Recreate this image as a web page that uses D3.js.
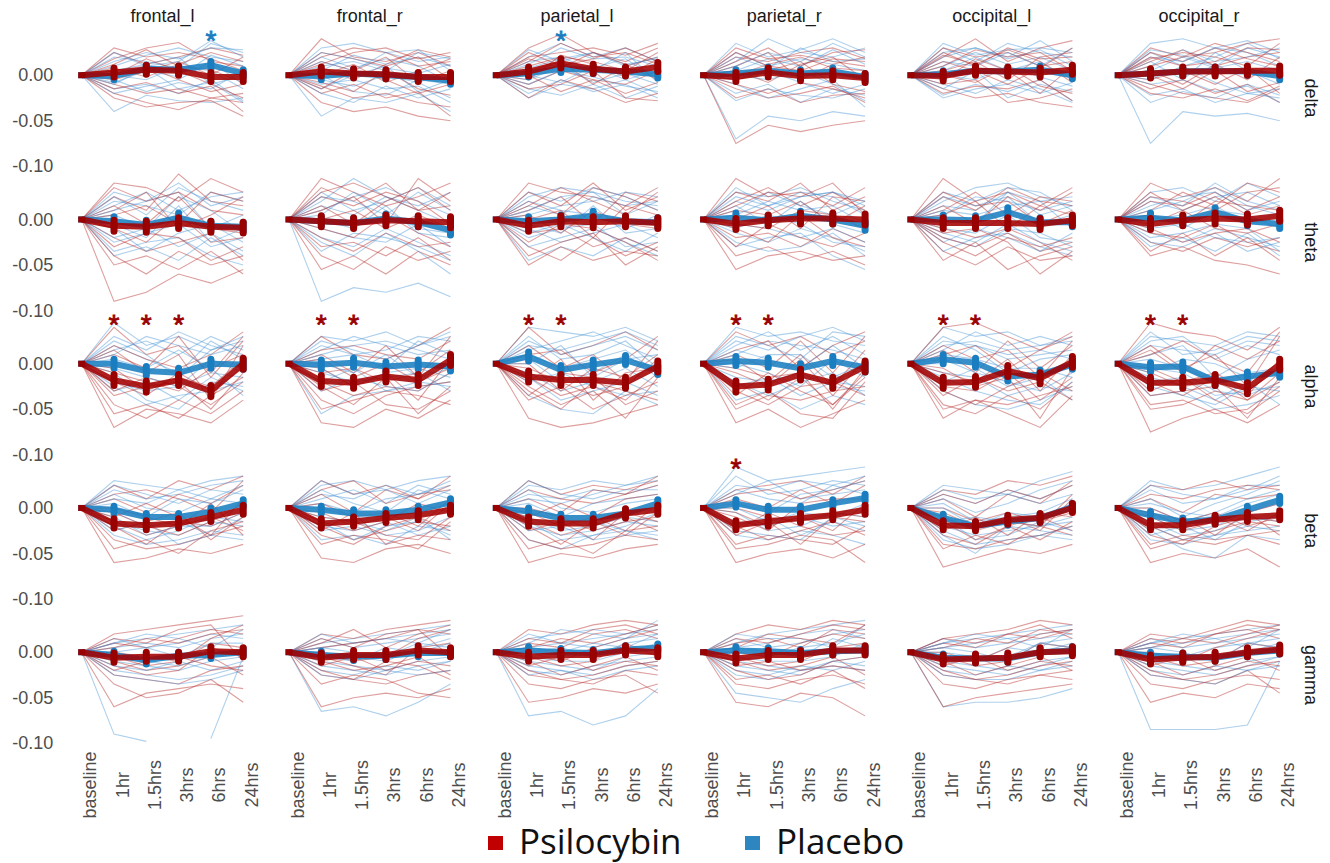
<!DOCTYPE html>
<html><head><meta charset="utf-8">
<script src="https://cdn.jsdelivr.net/npm/d3@7"></script>
<style>body{margin:0;background:#fff;}svg{display:block;}</style>
</head><body><svg id="c" width="1330" height="863"></svg>
<script>
// ---------------- DATA (values in thousandths, change from baseline) ----------------
const regions = ["frontal_l","frontal_r","parietal_l","parietal_r","occipital_l","occipital_r"];
const bands = ["delta","theta","alpha","beta","gamma"];
const timepoints = ["baseline","1hr","1.5hrs","3hrs","6hrs","24hrs"];
const groups = ["Psilocybin","Placebo"];
const yTicks = [0, -0.05, -0.10];

// group means at 1hr,1.5hrs,3hrs,6hrs,24hrs  [band][region]
const psiMean = [
  [[3,6,5,-2,-2],[4,2,1,-2,-2],[4,13,7,4,9],[-2,3,-1,0,-3],[-1,5,4,3,6],[2,4,4,5,5]],
  [[-7,-8,-4,-8,-9],[-2,-4,-1,-2,-3],[-7,-2,-3,-2,-4],[-5,-1,1,1,0],[-4,-4,-4,-5,-1],[-5,-1,1,0,4]],
  [[-18,-25,-18,-30,0],[-19,-21,-14,-18,4],[-14,-18,-18,-21,-3],[-25,-23,-12,-21,-3],[-21,-20,-8,-16,2],[-21,-21,-18,-27,-1]],
  [[-17,-19,-17,-10,-2],[-17,-15,-11,-8,-2],[-15,-17,-17,-6,-2],[-19,-15,-11,-8,-2],[-19,-20,-13,-11,0],[-19,-19,-13,-10,-8]],
  [[-6,-5,-5,1,0],[-6,-3,-3,2,0],[-5,-3,-3,2,0],[-7,-3,-3,2,2],[-8,-7,-6,0,1],[-8,-6,-5,0,3]]
];
const plaMean = [
  [[-1,7,6,11,2],[-1,2,0,-2,-6],[2,7,6,4,1],[2,5,2,4,-2],[1,5,4,6,0],[2,4,5,4,-1]],
  [[-2,-6,2,-7,-8],[-2,-4,1,-3,-12],[-2,0,4,-2,-3],[2,-1,4,0,-7],[0,-1,8,-3,-3],[2,-1,8,-2,-5]],
  [[0,-8,-10,0,-1],[-1,1,-3,-1,-3],[8,-7,-1,4,-7],[3,1,-5,3,-4],[5,1,-14,-12,-1],[-4,-3,-19,-14,-10]],
  [[-2,-10,-10,-4,5],[-2,-6,-6,-2,6],[-4,-11,-11,-6,5],[5,-2,-2,5,11],[-11,-20,-15,-11,1],[-8,-15,-13,-2,9]],
  [[-3,-9,-4,-3,0],[-3,-5,-4,-1,-1],[2,0,-1,3,5],[2,1,-1,1,2],[-6,-7,-7,0,2],[-4,-5,-6,-1,2]]
];
// standard errors per band
const psiErr = [5,6,6,5,5];
const plaErr = [4,5,5,4,4];

// significance markers: band, region, timepoint, group
const stars = [
  ["delta","frontal_l","6hrs","Placebo"],["delta","parietal_l","1.5hrs","Placebo"],
  ["alpha","frontal_l","1hr","Psilocybin"],["alpha","frontal_l","1.5hrs","Psilocybin"],["alpha","frontal_l","3hrs","Psilocybin"],
  ["alpha","frontal_r","1hr","Psilocybin"],["alpha","frontal_r","1.5hrs","Psilocybin"],
  ["alpha","parietal_l","1hr","Psilocybin"],["alpha","parietal_l","1.5hrs","Psilocybin"],
  ["alpha","parietal_r","1hr","Psilocybin"],["alpha","parietal_r","1.5hrs","Psilocybin"],
  ["alpha","occipital_l","1hr","Psilocybin"],["alpha","occipital_l","1.5hrs","Psilocybin"],
  ["alpha","occipital_r","1hr","Psilocybin"],["alpha","occipital_r","1.5hrs","Psilocybin"],
  ["beta","parietal_r","1hr","Psilocybin"]
];

// individual subjects (1hr..24hrs) per region
const psiDelta = [
 [[18,30,36,15,10],[-10,-20,-15,-25,-30],[25,12,20,30,22],[5,10,-5,-18,-10],[-20,-30,-38,-25,-20],[12,28,10,6,-8],[-5,5,15,0,20],[30,20,25,18,5],[-15,-8,-20,-12,-40],[8,-2,12,25,15],[0,18,5,-10,-25],[-25,-35,-30,-28,-45]],
 [[40,20,15,25,10],[-12,-25,-20,-30,-35],[20,30,25,10,15],[8,-5,12,28,20],[-20,-10,-25,-18,-45],[15,5,20,-8,5],[-30,-40,-35,-45,-50],[25,18,10,20,-5],[0,12,-8,5,18],[-8,-18,5,-15,-22],[12,25,30,18,25],[-15,5,-5,-20,-10]],
 [[30,45,25,15,30],[-10,5,-5,-20,-8],[20,25,30,22,35],[5,15,-10,10,20],[-25,-5,-15,-30,-20],[15,35,20,25,12],[-15,-10,5,-25,-28],[10,20,15,5,25],[25,10,18,30,15],[0,-18,-5,-10,5],[-5,22,12,-2,18],[18,8,25,12,-5]],
 [[20,15,25,30,18],[-75,-55,-62,-55,-50],[10,25,-5,12,20],[-15,-25,-20,-12,-30],[30,18,22,15,10],[-5,5,15,-10,-18],[15,30,10,25,28],[-25,-15,-30,-22,-20],[5,-8,12,20,-5],[25,10,5,18,15],[-10,-20,-8,-15,-25],[0,12,20,8,5]],
 [[20,40,15,30,38],[-15,-25,-20,-30,-35],[25,10,30,18,20],[5,15,-5,20,25],[-10,-5,-30,-25,-15],[30,20,25,10,15],[-20,-12,-15,-5,-28],[10,28,20,25,5],[0,-8,10,-12,-20],[15,5,-10,8,30],[-5,18,5,-20,10],[22,12,28,15,-8]],
 [[30,20,25,35,40],[-10,-20,-25,-30,-15],[15,28,10,20,25],[-15,-5,-20,-10,-30],[25,15,30,18,10],[5,-10,12,-5,20],[-20,-25,-15,-28,-12],[10,20,35,25,15],[-5,5,-10,8,-20],[20,10,15,30,28],[0,-15,5,-18,-8],[18,25,20,10,35]]
];
const plaDelta = [
 [[-40,-22,-28,-30,-25],[10,22,30,20,15],[-8,5,-2,22,10],[20,15,8,35,25],[-15,-10,-20,-5,-28],[5,12,20,-10,0],[-20,-12,-5,15,-10],[15,25,18,30,28],[0,-5,10,5,-15],[-10,8,-15,-8,-30],[25,10,15,38,20],[-5,-18,-8,-15,5]],
 [[30,35,25,15,20],[-45,-25,-30,-20,-40],[10,15,5,25,18],[-10,-5,-15,-12,-30],[20,8,18,10,-8],[-20,-30,-12,-25,-15],[5,22,12,20,10],[-5,-12,0,-8,-25],[15,5,25,28,5],[0,-18,-22,-5,-10],[25,18,8,2,12],[-15,0,10,-18,-5]],
 [[-25,-10,-15,-5,-20],[20,35,20,30,15],[5,12,8,18,-5],[-15,-22,-10,-25,-12],[28,15,25,10,20],[-10,5,-2,-12,-18],[12,30,18,20,10],[0,-8,10,-5,5],[15,20,5,25,-8],[-20,-5,-18,-10,-25],[8,18,25,12,18],[-5,10,-8,2,-10]],
 [[35,20,28,40,25],[-70,-45,-50,-40,-45],[15,40,25,20,30],[-20,-10,-30,-15,-22],[5,18,10,28,12],[-10,-25,-15,-5,-35],[25,10,18,12,5],[-5,5,-8,-20,-10],[10,25,15,35,20],[-28,-15,-22,-25,-15],[20,8,30,15,18],[0,-5,5,-10,-28]],
 [[30,15,35,25,20],[-22,-10,-18,-5,-28],[20,30,20,38,15],[-10,-20,-5,-15,-30],[10,25,12,20,5],[-15,5,-25,-10,-18],[35,22,28,30,25],[0,-5,10,-2,-12],[15,10,25,10,30],[-25,-15,-10,-20,-8],[5,20,5,15,-5],[25,30,18,28,10]],
 [[35,40,30,38,25],[-75,-40,-45,-42,-50],[-22,-15,-30,-20,-25],[25,10,20,35,18],[10,28,15,20,30],[-10,-5,-18,-12,-30],[20,15,30,25,10],[-30,-18,-25,-10,-22],[5,20,8,15,5],[15,-5,25,5,-10],[-5,10,-8,-20,-15],[28,22,10,30,20]]
];
const psiTheta = [
 [[40,35,20,45,30],[-90,-80,-60,-70,-55],[-20,-35,-25,-15,-45],[25,10,50,20,15],[-50,-40,-55,-35,-60],[10,30,-10,5,25],[-30,-15,-20,-45,-30],[35,20,30,10,5],[-10,-25,5,-25,-20],[15,-5,25,-10,-15],[-40,-60,-35,-50,-40],[5,15,-5,30,20]],
 [[45,30,15,25,40],[-40,-55,-30,-45,-35],[35,20,40,10,30],[-20,-35,-15,-30,-25],[10,25,-5,45,20],[-55,-40,-60,-35,-50],[25,15,30,20,-5],[-10,-20,5,-15,-30],[15,-5,20,35,10],[-30,-25,-40,-20,-45],[0,10,-10,5,-10],[30,40,25,10,15]],
 [[40,30,25,15,35],[-50,-30,-45,-35,-40],[20,5,35,25,10],[-30,-45,-20,-40,-25],[10,25,-5,30,20],[-15,-10,-30,-20,-35],[30,15,40,10,25],[-40,-25,-15,-50,-30],[5,-15,10,-5,-10],[15,35,20,5,30],[-25,-5,-10,-25,-45],[0,10,-20,15,5]],
 [[30,20,40,10,25],[-40,-30,-45,-35,-50],[20,35,15,30,10],[-20,-15,-30,-10,-25],[45,25,30,15,35],[-10,-25,5,-20,-30],[10,5,20,-5,15],[-55,-40,-35,-45,-40],[0,15,-10,25,20],[-30,-5,-20,-30,-15],[15,30,25,40,5],[-5,-10,10,5,-10]],
 [[45,20,30,15,35],[-35,-50,-30,-45,-40],[25,10,35,20,15],[-20,-30,-15,-35,-25],[10,30,5,25,20],[-45,-25,-55,-40,-30],[30,15,20,-5,10],[-10,-20,-10,-25,-45],[15,-5,25,10,30],[-25,-40,-20,-30,-20],[5,20,-10,15,5],[-15,-10,-25,-60,-35]],
 [[40,25,35,20,45],[-40,-30,-45,-50,-60],[20,15,30,10,25],[-25,-35,-20,-30,-20],[10,30,15,40,30],[-15,-20,-5,-25,-35],[30,10,25,5,15],[-35,-15,-40,-20,-45],[5,-5,20,15,10],[-10,-25,-15,-10,-25],[25,20,10,30,35],[-5,10,-10,-15,-5]]
];
const plaTheta = [
 [[30,20,40,15,25],[-35,-25,-20,-40,-50],[15,30,10,25,30],[-20,-10,-30,-15,-35],[25,5,35,20,10],[-10,-35,-15,-5,-25],[10,20,30,-10,5],[-25,-15,-5,-30,-20],[5,-10,25,10,-15],[-40,-30,-45,-20,-40],[20,15,5,30,20],[-5,-20,15,-25,-10]],
 [[20,45,25,15,30],[-90,-75,-80,-70,-85],[10,25,35,20,5],[-20,-30,-10,-25,-40],[30,10,20,35,15],[-10,-20,-25,-5,-30],[5,30,10,-10,-15],[-35,-15,-20,-30,-45],[15,5,25,10,-5],[-25,-40,-15,-35,-60],[25,20,5,30,10],[0,-10,15,-15,-20]],
 [[25,35,30,20,15],[-45,-30,-40,-20,-35],[15,5,25,15,20],[-20,-10,-5,-30,-25],[30,20,35,25,10],[-10,-25,-15,-5,-20],[5,15,20,30,25],[-30,-20,-10,-25,-40],[20,10,5,-10,5],[-5,-15,15,-15,-10],[10,25,30,5,20],[-15,-5,-20,-35,-15]],
 [[30,25,35,20,10],[-30,-20,-15,-40,-55],[20,10,25,30,15],[-15,-25,-10,-20,-35],[10,30,15,5,20],[-5,-10,-20,-10,-25],[25,15,30,25,5],[-25,-35,-30,-15,-40],[5,20,10,15,-5],[15,-5,20,-5,-15],[-10,5,-5,-25,-30],[35,15,25,30,20]],
 [[20,35,40,25,15],[-35,-20,-15,-30,-40],[15,10,30,20,25],[-20,-30,-10,-15,-30],[30,20,35,30,10],[-10,-15,5,-20,-25],[5,25,20,10,20],[-25,-10,-20,-35,-15],[25,15,25,-5,5],[-15,-25,-5,-25,-35],[10,5,15,20,-10],[0,-5,30,5,15]],
 [[30,35,20,40,25],[-30,-20,-35,-15,-40],[20,10,25,30,15],[-15,-25,-10,-20,-30],[25,15,40,20,10],[-10,-5,-20,-25,-20],[15,25,30,10,20],[-25,-30,-15,-35,-25],[5,-10,10,5,-10],[10,20,35,15,5],[-20,-15,-5,-10,-35],[0,5,15,-5,0]]
];
const psiAlpha = [
 [[40,10,20,-10,30],[-70,-50,-55,-65,-40],[-20,-35,-10,-30,-5],[10,-5,30,-15,25],[-45,-60,-40,-55,-30],[-10,-20,-30,-5,10],[-30,-15,-25,-45,-20],[20,5,-5,10,35],[-55,-45,-60,-35,-15],[-5,-30,-15,-25,5],[15,-10,10,-40,20],[-35,-25,-20,-50,-10]],
 [[30,10,5,20,40],[-65,-70,-50,-60,-40],[-20,-35,-25,-30,-10],[10,-10,20,-15,30],[-40,-55,-35,-25,-20],[-5,-25,-10,-40,5],[-30,-20,-45,-50,-30],[15,20,10,5,25],[-50,-40,-30,-35,-45],[-10,-5,-20,-10,15],[5,-15,0,-20,-5],[-25,-45,-15,-55,-25]],
 [[40,10,20,35,15],[-60,-70,-65,-55,-45],[-15,-35,-25,-40,-10],[20,-5,10,-20,25],[-40,-25,-50,-35,-20],[-5,-20,-35,-25,5],[-25,-45,-30,-60,-15],[10,15,-10,5,30],[-35,-10,-15,-45,-30],[0,-30,-5,-15,10],[-20,5,-40,-10,-5],[-30,-50,-20,-30,-40]],
 [[35,20,30,10,25],[-65,-50,-70,-55,-40],[-20,-40,-15,-45,-10],[10,-5,25,-10,30],[-45,-30,-55,-60,-20],[-10,-25,5,-35,5],[-30,-45,-25,-20,-35],[15,25,-5,20,35],[-50,-35,-40,-30,-25],[-5,-15,-10,-50,-5],[5,-20,10,-25,15],[-35,-10,-30,-45,-15]],
 [[40,45,30,15,35],[-60,-40,-55,-70,-35],[-25,-30,-10,-40,-15],[15,-10,25,-5,20],[-45,-55,-35,-50,-20],[-10,-20,5,-30,10],[-35,-15,-30,-20,-40],[10,20,-5,15,30],[-50,-40,-45,-35,-25],[-5,-25,-15,-60,-5],[20,5,15,-15,25],[-30,-45,-25,-10,-30]],
 [[45,35,30,15,40],[-75,-60,-50,-65,-45],[-20,-35,-15,-40,-10],[20,-5,10,-25,30],[-45,-40,-55,-50,-25],[-10,-25,-20,-35,5],[-30,-15,-40,-55,-30],[10,25,5,-10,35],[-50,-45,-30,-40,-20],[-5,-20,-10,-30,-5],[15,-10,20,5,25],[-35,-30,-25,-60,-15]]
];
const plaAlpha = [
 [[45,20,30,15,25],[-20,-30,-25,-10,-15],[30,15,35,20,10],[-10,-40,-50,-20,-25],[15,25,10,30,15],[-30,-20,-40,-15,-30],[20,5,-10,25,5],[-5,-15,-25,5,-10],[10,30,20,10,20],[-25,-45,-35,-30,-20],[5,-5,15,-5,-35],[25,10,-15,15,30]],
 [[30,25,35,20,30],[-55,-35,-30,-25,-20],[20,10,15,30,25],[-10,-20,-15,-10,-30],[15,30,20,10,15],[-30,-15,-25,-30,-10],[25,15,5,20,35],[-5,-25,-10,-5,-15],[10,20,25,15,5],[-20,-5,-30,-20,-25],[5,10,-5,25,10],[0,-10,10,-15,-5]],
 [[40,35,30,40,25],[-35,-50,-55,-30,-45],[25,10,20,30,15],[-10,-30,-20,-5,-25],[15,25,35,20,5],[-20,-10,-25,-35,-30],[30,5,10,25,-5],[5,-20,-10,10,-15],[20,15,25,35,20],[-15,-40,-30,-20,-35],[10,-5,5,15,-10],[0,20,-15,5,10]],
 [[40,30,35,25,20],[-40,-30,-50,-35,-45],[25,15,30,40,25],[-15,-20,-10,-25,-30],[20,35,15,30,10],[-25,-15,-35,-20,-25],[10,25,20,15,5],[0,-10,-25,5,-15],[30,20,5,35,30],[-20,-35,-20,-10,-35],[15,5,-5,20,-5],[-5,10,10,-15,0]],
 [[40,30,35,20,30],[-30,-45,-50,-40,-25],[25,20,5,10,15],[-10,-15,-35,-25,-30],[15,35,20,30,20],[-20,-5,-25,-15,-40],[30,15,-10,5,10],[5,-10,-20,-30,-10],[20,25,15,20,25],[-15,-30,-40,-45,-20],[10,5,-5,-5,-15],[0,20,10,15,5]],
 [[30,25,20,35,30],[-35,-30,-50,-45,-35],[20,15,10,25,20],[-20,-15,-35,-30,-25],[25,30,5,20,10],[-15,-25,-40,-20,-45],[10,20,-15,5,15],[-5,-10,-30,-35,-20],[35,10,15,30,25],[-25,-35,-45,-25,-30],[5,-5,-20,-10,-5],[-10,5,0,-15,-10]]
];
const psiBeta = [
 [[25,10,30,20,35],[-60,-55,-45,-50,-40],[-15,-30,-20,-10,-25],[10,-5,15,5,25],[-35,-45,-40,-30,-20],[-5,-20,-30,-15,5],[-25,-15,-5,-35,-10],[15,20,10,-5,30],[-45,-35,-50,-25,-15],[0,-10,-20,5,-30],[-20,-40,-15,-20,-5],[-10,5,-10,-30,10]],
 [[30,15,25,10,35],[-55,-60,-45,-40,-50],[-20,-35,-25,-15,-20],[15,-5,20,10,25],[-40,-30,-35,-45,-15],[-5,-20,-10,-25,5],[-30,-40,-20,-10,-25],[20,30,5,15,20],[-10,-15,-30,-35,-10],[5,-10,-5,-20,10],[-25,-5,-40,-30,-35],[-15,-25,-15,5,-5]],
 [[30,15,25,20,30],[-60,-50,-55,-45,-40],[-15,-30,-20,-10,-25],[10,-5,20,15,25],[-35,-45,-40,-30,-35],[-5,-20,-10,-25,5],[-25,-15,-35,-5,-15],[20,10,5,15,35],[-45,-35,-50,-25,-20],[0,-10,-25,-15,-10],[-20,-40,-15,-30,-5],[-10,5,-10,10,15]],
 [[20,25,30,15,35],[-60,-50,-45,-55,-40],[-20,-35,-25,-15,-30],[10,0,20,5,25],[-40,-30,-35,-40,-20],[-5,-20,-10,-25,5],[-30,-15,-40,-10,-15],[15,20,10,20,30],[-45,-40,-30,-35,-60],[0,-10,-15,-5,-10],[-25,-5,-20,-30,-25],[-10,-25,5,10,10]],
 [[20,15,30,25,35],[-65,-55,-45,-50,-40],[-15,-35,-20,-10,-25],[10,-10,15,5,30],[-40,-45,-35,-30,-20],[-5,-20,-10,-25,10],[-30,-40,-20,-35,-15],[15,5,20,10,25],[-45,-30,-40,-20,-30],[0,-15,-5,-15,-5],[-25,-10,-30,-5,-10],[-10,-25,-15,-20,15]],
 [[25,20,30,20,25],[-60,-50,-55,-45,-65],[-20,-35,-25,-15,-20],[10,-5,15,10,15],[-40,-30,-35,-30,-40],[-5,-20,-10,-25,-5],[-30,-40,-20,-10,-15],[15,10,20,25,20],[-45,-35,-40,-30,-25],[0,-15,-5,-20,-10],[-25,-10,-30,-5,-30],[-10,-25,-15,-5,5]]
];
const plaBeta = [
 [[30,25,20,30,35],[-30,-40,-35,-25,-30],[20,10,15,25,30],[-15,-25,-30,-15,-20],[10,5,20,10,25],[-5,-20,-15,-30,-10],[25,15,5,20,15],[-20,-35,-25,-10,-15],[5,-10,10,5,20],[-25,-15,-40,-30,-35],[15,0,-5,10,5],[-10,-30,-20,-20,-5]],
 [[25,30,20,30,35],[-35,-30,-40,-20,-25],[15,10,25,15,30],[-20,-25,-15,-30,-20],[10,20,5,25,15],[-10,-15,-25,-10,-35],[30,15,20,5,20],[-25,-20,-30,-25,-10],[5,-5,10,15,25],[-15,-35,-20,-15,-30],[20,5,-5,20,10],[0,-10,-10,-5,5]],
 [[25,20,30,25,30],[-35,-45,-30,-25,-35],[15,10,20,15,25],[-20,-30,-25,-15,-20],[10,5,15,25,35],[-10,-25,-20,-10,-15],[30,15,10,20,20],[-25,-20,-35,-30,-25],[5,-10,5,10,15],[-15,-35,-30,-20,-5],[20,0,-5,5,10],[-5,-15,-15,-25,-30]],
 [[45,30,35,40,45],[-30,-35,-25,-30,-40],[25,20,30,25,35],[-15,-20,-10,-20,-15],[35,15,20,30,25],[-5,-25,-20,-5,-10],[15,30,10,15,20],[-20,-10,-30,-15,-25],[5,-5,15,20,30],[-25,-30,-35,-10,-20],[20,10,5,25,15],[0,-15,-5,-10,5]],
 [[25,20,15,30,40],[-35,-45,-40,-30,-35],[15,5,20,10,25],[-20,-30,-25,-20,-15],[10,-5,5,20,30],[-10,-35,-30,-15,-25],[20,10,15,5,15],[-25,-40,-35,-30,-20],[5,-15,-10,-5,10],[-30,-50,-20,-25,-30],[0,-20,-5,-10,5],[-15,-10,-15,-20,-10]],
 [[30,20,25,35,45],[-35,-40,-30,-25,-20],[20,5,10,20,35],[-15,-30,-25,-10,-15],[10,-10,5,15,30],[-20,-35,-30,-20,-25],[25,15,10,25,25],[-30,-20,-35,-15,-10],[0,-15,-5,10,20],[-25,-45,-55,-30,-35],[5,-5,-10,5,15],[-10,-25,-20,-5,5]]
];
const psiGamma = [
 [[20,25,30,35,40],[-60,-45,-40,-35,-40],[-10,-20,-15,-5,-25],[10,5,15,25,20],[-25,-30,-35,-20,-15],[-5,-15,-10,10,5],[15,10,25,30,-10],[-35,-50,-45,-30,-55],[0,-5,-10,15,30],[-15,-25,-20,5,-5],[5,15,10,20,25],[-20,-10,-5,-15,-20]],
 [[20,15,25,30,35],[-60,-50,-45,-50,-40],[-10,-20,-15,-5,-25],[10,25,5,20,30],[-25,-30,-35,-25,-20],[-5,-15,-25,5,10],[15,5,20,25,-5],[-35,-25,-30,-45,-50],[0,-10,-5,15,25],[-15,-5,-20,-10,-15],[5,10,15,25,20],[-20,-30,-10,-15,-30]],
 [[25,20,30,35,30],[-55,-50,-40,-45,-35],[-10,-25,-15,-5,-20],[10,5,20,25,15],[-25,-30,-35,-20,-25],[-5,-15,-10,10,-5],[15,10,25,30,20],[-35,-40,-30,-25,-45],[0,-10,5,15,25],[-15,-5,-20,-10,-15],[5,15,10,20,30],[-20,-30,-25,-15,-10]],
 [[20,30,25,35,30],[-55,-60,-45,-50,-70],[-10,-20,-15,-5,-25],[10,15,5,25,20],[-30,-25,-35,-20,-40],[-5,-15,-10,5,10],[15,10,20,30,25],[-35,-40,-30,-25,-35],[0,-5,10,20,15],[-15,-10,-20,-15,-20],[5,20,15,10,30],[-20,-30,-25,-10,-5]],
 [[15,20,25,35,30],[-60,-50,-45,-40,-35],[-10,-25,-15,-5,-20],[10,5,20,15,25],[-25,-30,-35,-25,-20],[-5,-15,-10,10,5],[15,10,20,30,15],[-35,-40,-30,-25,-30],[0,-10,5,20,25],[-15,-5,-20,-10,-15],[5,15,10,25,20],[-20,-30,-25,-15,-10]],
 [[20,15,25,35,30],[-55,-45,-50,-35,-40],[-10,-25,-15,-5,-20],[10,5,20,25,15],[-25,-30,-35,-20,-45],[-5,-15,-10,10,5],[15,10,20,30,25],[-35,-40,-30,-25,-30],[0,-10,5,15,25],[-15,-5,-20,-10,-15],[5,15,10,20,30],[-20,-30,-25,-15,-10]]
];
const plaGamma = [
 [[-90,-98,null,null,null],[10,15,20,25,30],[-20,-25,-30,-25,-15],[5,10,5,15,20],[-10,-15,-20,-10,-5],[15,5,10,20,15],[-25,-30,-35,-30,-20],[0,5,-5,10,10],[-5,-10,-15,-5,0],[10,20,15,5,25],[-15,-20,-10,-20,-10],[null,null,null,-95,-5]],
 [[10,15,20,25,30],[-65,-60,-70,-55,-35],[-20,-25,-15,-20,-10],[5,10,15,20,25],[-10,-15,-20,-10,-5],[15,5,10,15,20],[-25,-30,-20,-25,-20],[0,-5,-10,5,15],[-5,-10,5,0,10],[20,10,15,10,25],[-15,-20,-25,-15,-10],[5,0,-5,10,5]],
 [[-70,-65,-80,-70,-40],[15,20,25,20,30],[-20,-25,-15,-10,-5],[5,10,15,20,25],[-10,-15,-20,-5,0],[20,10,5,15,20],[-25,-20,-30,-20,-15],[0,5,-5,10,15],[-5,-10,-10,0,10],[10,25,20,15,35],[-15,-20,-25,-15,-10],[5,0,10,5,20]],
 [[10,20,25,30,35],[-45,-50,-55,-40,-30],[-20,-25,-15,-20,-10],[5,10,20,25,15],[-10,-15,-20,-10,-5],[15,5,10,20,25],[-25,-30,-20,-15,-20],[0,-5,5,10,20],[-5,-10,-10,-5,10],[20,15,15,5,30],[-15,-20,-25,-10,-15],[5,0,-5,15,5]],
 [[-60,-55,-55,-50,-40],[10,15,20,25,30],[-20,-25,-15,-20,-10],[5,10,15,20,25],[-10,-15,-20,-10,-5],[15,5,10,15,20],[-25,-30,-30,-20,-15],[0,-5,-5,10,15],[-5,-10,5,0,10],[10,20,15,5,25],[-15,-20,-25,-15,-5],[5,0,-10,10,5]],
 [[-85,-85,-85,-80,-10],[10,15,20,25,30],[-20,-25,-15,-20,-10],[5,10,15,20,25],[-10,-15,-20,-10,-5],[15,5,10,15,20],[-25,-30,-35,-20,-15],[0,-5,5,10,15],[-5,-10,-5,0,10],[10,20,15,5,25],[-15,-20,-25,-15,-5],[5,0,-10,10,5]]
];
const psiSubj = [psiDelta, psiTheta, psiAlpha, psiBeta, psiGamma];
const plaSubj = [plaDelta, plaTheta, plaAlpha, plaBeta, plaGamma];

// ---------------- LAYOUT / STYLE ----------------
const COLX0 = 81.7, COLSTEP = 207.3, TSTEP = 32.3;
const ROWTOP0 = 27.9, ROWSTEP = 144.25, PANELH = 140.1;
const YLO = -0.102, YHI = 0.052;
const starLevelFor = bi => bi === 0 ? 0.0455 : 0.050;
const col = {
  Psilocybin: {mean:"#a30000", err:"#990000", subj:"#b52b2b", legend:"#c00000"},
  Placebo: {mean:"#1b7fc1", err:"#1a7dbf", subj:"#3d8fd1", legend:"#2e86c1"}
};
const FONT = "'Liberation Sans', Arial, sans-serif";

const svg = d3.select("#c");
const defs = svg.append("defs");
const toSeries = arr => timepoints.map((t, k) => [t, k === 0 ? 0 : (arr[k-1] == null ? null : arr[k-1] / 1000)]);

bands.forEach((band, bi) => {
  regions.forEach((reg, ri) => {
    const x0 = COLX0 + ri * COLSTEP;
    const x = d3.scalePoint().domain(timepoints).range([x0, x0 + 5 * TSTEP]);
    const top = ROWTOP0 + bi * ROWSTEP;
    const y = d3.scaleLinear().domain([YLO, YHI]).range([top + PANELH, top]);
    const id = `clip-${bi}-${ri}`;
    defs.append("clipPath").attr("id", id).append("rect")
      .attr("x", x0 - 0.6 * TSTEP).attr("y", top).attr("width", 6.2 * TSTEP).attr("height", PANELH);
    const g = svg.append("g");
    const line = d3.line().defined(d => d[1] != null).x(d => x(d[0])).y(d => y(d[1]));
    const sg = g.append("g").attr("clip-path", `url(#${id})`).attr("fill", "none").attr("stroke-width", 1.1);
    const ps = psiSubj[bi][ri], pl = plaSubj[bi][ri];
    const n = Math.max(ps.length, pl.length);
    for (let i = 0; i < n; i++) {
      if (pl[i]) sg.append("path").attr("d", line(toSeries(pl[i]))).attr("stroke", col.Placebo.subj).attr("stroke-opacity", 0.42);
      if (ps[i]) sg.append("path").attr("d", line(toSeries(ps[i]))).attr("stroke", col.Psilocybin.subj).attr("stroke-opacity", 0.45);
    }
    // group means + error bars
    [["Placebo", plaMean[bi][ri], plaErr[bi]], ["Psilocybin", psiMean[bi][ri], psiErr[bi]]].forEach(([grp, m, se]) => {
      const s = toSeries(m);
      g.append("path").attr("d", line(s)).attr("fill", "none")
        .attr("stroke", col[grp].mean).attr("stroke-width", 6).attr("stroke-opacity", 0.88)
        .attr("stroke-linejoin", "round");
      g.append("rect").attr("x", x("baseline") - 3.5).attr("y", y(0) - 3).attr("width", 7).attr("height", 6)
        .attr("fill", col[grp].err);
      s.slice(1).forEach(([t, v]) => {
        g.append("line").attr("x1", x(t)).attr("x2", x(t))
          .attr("y1", y(v - se / 1000)).attr("y2", y(v + se / 1000))
          .attr("stroke", col[grp].err).attr("stroke-width", 7).attr("stroke-linecap", "round");
      });
    });
    // stars
    stars.filter(s => s[0] === band && s[1] === reg).forEach(s => {
      g.append("text").attr("x", x(s[2])).attr("y", y(starLevelFor(bi)) + 16)
        .attr("text-anchor", "middle").attr("font-family", FONT).attr("font-size", 28)
        .attr("fill", col[s[3]].err).attr("stroke", col[s[3]].err).attr("stroke-width", 0.8).text("*");
    });
    // y axis (left column)
    if (ri === 0) {
      const ax = svg.append("g").attr("transform", `translate(${x0 - 0.6 * TSTEP},0)`)
        .call(d3.axisLeft(y).tickValues(yTicks).tickSize(0).tickPadding(9).tickFormat(d => d.toFixed(2)));
      ax.select(".domain").remove();
      ax.selectAll("text").attr("font-family", FONT).attr("font-size", 18).attr("fill", "#4d4d4d");
    }
    // x axis (bottom row)
    if (bi === bands.length - 1) {
      const ax = svg.append("g").attr("transform", `translate(0,${top + PANELH})`)
        .call(d3.axisBottom(x).tickSize(0));
      ax.select(".domain").remove();
      ax.selectAll("text").attr("font-family", FONT).attr("font-size", 18).attr("fill", "#4d4d4d")
        .attr("x", 0).attr("y", 0).attr("dy", 0).attr("text-anchor", "middle")
        .attr("transform", `translate(14,${785 - (top + PANELH)}) rotate(-90)`);
    }
    // strips
    if (bi === 0) {
      svg.append("text").attr("x", (x0 + x0 + 5 * TSTEP) / 2).attr("y", 22)
        .attr("text-anchor", "middle").attr("font-family", FONT).attr("font-size", 18)
        .attr("fill", "#1a1a1a").text(reg);
    }
    if (ri === regions.length - 1) {
      svg.append("text").attr("transform", `translate(1311,${top + PANELH / 2}) rotate(90)`)
        .attr("text-anchor", "middle").attr("dy", "0.35em").attr("font-family", FONT).attr("font-size", 18)
        .attr("fill", "#1a1a1a").text(band);
    }
  });
});

// legend
const legX = [488, 745];
groups.forEach((grp, i) => {
  svg.append("rect").attr("x", legX[i]).attr("y", 836).attr("width", 15).attr("height", 14).attr("fill", col[grp].legend);
  svg.append("text").attr("x", legX[i] + 31).attr("y", 854)
    .attr("font-family", "'Open Sans', sans-serif").attr("font-size", 35).attr("fill", "#111").text(grp);
});
</script>
</body></html>
